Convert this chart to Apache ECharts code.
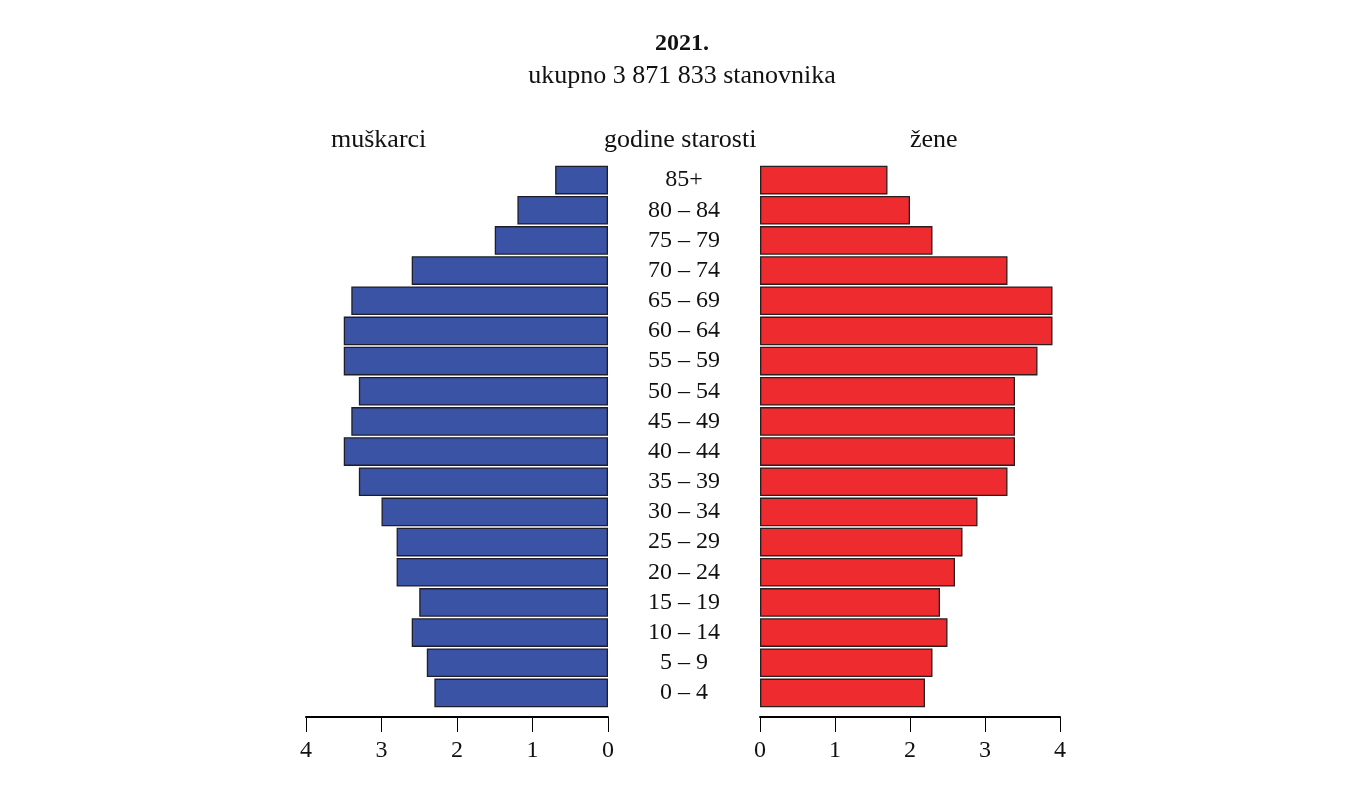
<!DOCTYPE html>
<html><head><meta charset="utf-8">
<script src="https://cdn.jsdelivr.net/npm/echarts@6/dist/echarts.min.js"></script>
<style>html,body{margin:0;padding:0;background:#fff}#c{width:1364px;height:794px}</style>
</head><body><div id="c"></div>
<script>
const ageGroups = ['0 – 4','5 – 9','10 – 14','15 – 19','20 – 24','25 – 29','30 – 34','35 – 39','40 – 44','45 – 49','50 – 54','55 – 59','60 – 64','65 – 69','70 – 74','75 – 79','80 – 84','85+'];
const men   = [2.3,2.4,2.6,2.5,2.8,2.8,3.0,3.3,3.5,3.4,3.3,3.5,3.5,3.4,2.6,1.5,1.2,0.7];
const women = [2.2,2.3,2.5,2.4,2.6,2.7,2.9,3.3,3.4,3.4,3.4,3.7,3.9,3.9,3.3,2.3,2.0,1.7];
const xTicks = [0,1,2,3,4];

const FONT = '"Liberation Serif","DejaVu Serif",serif';
const chart = echarts.init(document.getElementById('c'));
const xCommon = {
  type:'value', min:0, max:4, interval:1, position:'bottom', offset:9,
  axisLine:{show:true, lineStyle:{color:'#000', width:2}},
  axisTick:{show:true, length:15, lineStyle:{color:'#000', width:1}},
  axisLabel:{fontFamily:FONT, fontSize:24, color:'#111', margin:22,
    formatter:v=>xTicks.includes(v)?String(v):''},
  splitLine:{show:false}
};
chart.setOption({
  animation:false,
  title:[
    {text:'2021.', left:'center', top:27, textStyle:{fontFamily:FONT, fontSize:24, fontWeight:'bold', color:'#111'}},
    {text:'ukupno 3 871 833 stanovnika', left:'center', top:58, textStyle:{fontFamily:FONT, fontSize:26, fontWeight:'normal', color:'#111'}}
  ],
  graphic:[
    {type:'text', left:331, top:127, style:{text:'muškarci', font:'26px '+FONT, fill:'#111'}},
    {type:'text', left:604, top:127, style:{text:'godine starosti', font:'26px '+FONT, fill:'#111'}},
    {type:'text', left:910, top:127, style:{text:'žene', font:'26px '+FONT, fill:'#111'}}
  ],
  grid:[
    {left:306, right:756, top:165, bottom:86},
    {left:760, right:304, top:165, bottom:86}
  ],
  xAxis:[
    Object.assign({gridIndex:0, inverse:true}, xCommon),
    Object.assign({gridIndex:1}, xCommon)
  ],
  yAxis:[
    {type:'category', gridIndex:0, data:ageGroups, position:'right',
      axisLine:{show:false}, axisTick:{show:false}, axisLabel:{show:false}},
    {type:'category', gridIndex:1, data:ageGroups, position:'left',
      axisLine:{show:false}, axisTick:{show:false},
      axisLabel:{interval:0, fontFamily:FONT, fontSize:24, color:'#111', align:'center', margin:76, padding:[5,0,0,0]}}
  ],
  series:[
    {type:'bar', xAxisIndex:0, yAxisIndex:0, data:men, barCategoryGap:'5%',
      itemStyle:{color:'#3a53a4', borderColor:'#1e1e2a', borderWidth:1.3}},
    {type:'bar', xAxisIndex:1, yAxisIndex:1, data:women, barCategoryGap:'5%',
      itemStyle:{color:'#ee2b2f', borderColor:'#2a1e1e', borderWidth:1.3}}
  ]
});
</script></body></html>
